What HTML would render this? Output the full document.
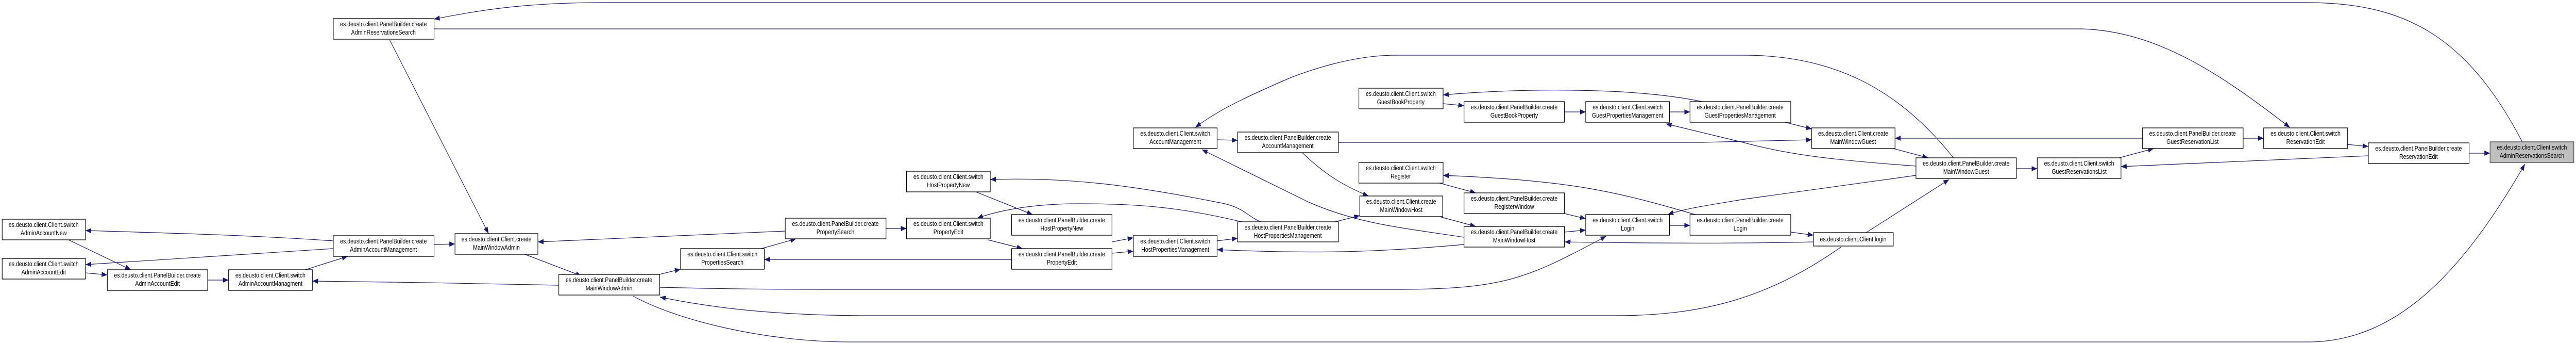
<!DOCTYPE html>
<html><head><meta charset="utf-8"><style>
html,body{margin:0;padding:0;background:#fff;width:100%;height:100%;overflow:hidden}
svg{display:block;width:100vw;height:100vh}
text{font-family:"Liberation Sans",Arial,sans-serif;font-size:12.5px;fill:#000;text-anchor:middle}
.b{fill:#fff;stroke:#000;stroke-width:1.3}
.g{fill:#bfbfbf;stroke:#404040;stroke-width:1.3}
.e{fill:none;stroke:#191970;stroke-width:1.2;marker-end:url(#a)}
</style></head><body>
<svg viewBox="0 0 5905 665" preserveAspectRatio="none" xmlns="http://www.w3.org/2000/svg" overflow="hidden">
<defs><marker id="a" markerUnits="userSpaceOnUse" markerWidth="14" markerHeight="10" refX="13" refY="5" orient="auto"><path d="M0,0 L13,5 L0,10 z" fill="#191970"/></marker></defs>

<path class="e" d="M764,467 C600,457 400,452 196,447"/>
<path class="e" d="M764,482 C600,492 400,503 196,513"/>
<path class="e" d="M157,465 L300,523"/>
<path class="e" d="M196,529 L246,533"/>
<path class="e" d="M476,543 L524,543"/>
<path class="e" d="M700,523 L797,497"/>
<path class="e" d="M1281,553 C1100,549 900,547 716,545"/>
<path class="e" d="M893,77 L1120,453"/>
<path class="e" d="M995,474 L1043,473"/>
<path class="e" d="M1203,493 L1333,535"/>
<path class="e" d="M1800,448 L1233,469"/>
<path class="e" d="M1497,535 L1560,522"/>
<path class="e" d="M1745,482 L1825,463"/>
<path class="e" d="M2319,503 L1752,503"/>
<path class="e" d="M1512,557 C1700,561 1800,561 2000,561 L3200,561 C3450,561 3500,540 3682,458"/>
<path class="e" d="M4220,479 C4050,580 3900,612 3700,612 L2000,612 C1800,612 1650,600 1513,576"/>
<path class="e" d="M1451,574 C1550,620 1750,663 1950,663 L5290,663 C5500,663 5650,520 5788,318"/>
<path class="e" d="M5783,277 C5650,60 5500,5 5285,5 L1383,5 C1200,5 1100,20 995,37"/>
<path class="e" d="M995,56 L4771,56 C4950,60 5100,150 5249,247"/>
<path class="e" d="M4478,306 C4350,170 4200,107 3996,107 L3200,107 C3100,107 3000,137 2960,150 C2850,190 2790,215 2740,247"/>
<path class="e" d="M2790,271 L2837,272"/>
<path class="e" d="M2985,296 C3040,340 3080,360 3137,380"/>
<path class="e" d="M3068,276 L3900,276 L4153,271"/>
<path class="e" d="M3356,460 C3200,440 3112,433 3000,392 L2755,290"/>
<path class="e" d="M3356,474 C3150,490 3000,492 2790,484"/>
<path class="e" d="M2790,467 L2837,462"/>
<path class="e" d="M3056,431 L3117,418"/>
<path class="e" d="M2890,430 C2860,420 2850,400 2790,392 C2600,360 2450,343 2270,348"/>
<path class="e" d="M2851,431 C2700,400 2600,395 2472,395 C2380,395 2300,405 2240,423"/>
<path class="e" d="M2237,372 L2367,416"/>
<path class="e" d="M2265,465 L2344,482"/>
<path class="e" d="M2549,469 L2598,461"/>
<path class="e" d="M2549,491 L2598,487"/>
<path class="e" d="M2031,443 L2078,443"/>
<path class="e" d="M3902,197 C3750,170 3500,170 3308,184"/>
<path class="e" d="M3308,201 L3356,205"/>
<path class="e" d="M3586,217 L3635,217"/>
<path class="e" d="M3827,217 L3874,217"/>
<path class="e" d="M4392,322 C4200,310 4100,300 4000,277 L3819,240"/>
<path class="e" d="M4092,237 L4153,250"/>
<path class="e" d="M4340,288 L4420,306"/>
<path class="e" d="M4622,327 L4670,327"/>
<path class="e" d="M4858,306 L4937,288"/>
<path class="e" d="M4911,268 L4344,268"/>
<path class="e" d="M5429,302 C5200,310 5000,318 4862,323"/>
<path class="e" d="M5142,268 L5189,268"/>
<path class="e" d="M5381,280 L5429,284"/>
<path class="e" d="M5660,297 L5708,297"/>
<path class="e" d="M4392,340 L4000,386 C3900,400 3860,405 3823,416"/>
<path class="e" d="M3886,416 C3700,370 3600,350 3308,340"/>
<path class="e" d="M3300,355 L3383,374"/>
<path class="e" d="M3300,420 L3383,439"/>
<path class="e" d="M3586,414 L3635,424"/>
<path class="e" d="M3586,450 L3635,446"/>
<path class="e" d="M3827,437 L3874,437"/>
<path class="e" d="M4157,469 C4000,472 3800,472 3587,469"/>
<path class="e" d="M4105,450 L4157,456"/>
<path class="e" d="M4274,453 L4468,348"/>

<g>
<rect class="b" x="764" y="36" width="231" height="40"/><text x="879" y="51">es.deusto.client.PanelBuilder.create</text><text x="879" y="67">AdminReservationsSearch</text>
<rect class="b" x="5" y="425" width="191" height="40"/><text x="100" y="440">es.deusto.client.Client.switch</text><text x="100" y="456">AdminAccountNew</text>
<rect class="b" x="5" y="501" width="191" height="40"/><text x="100" y="516">es.deusto.client.Client.switch</text><text x="100" y="532">AdminAccountEdit</text>
<rect class="b" x="246" y="523" width="230" height="40"/><text x="361" y="538">es.deusto.client.PanelBuilder.create</text><text x="361" y="554">AdminAccountEdit</text>
<rect class="b" x="524" y="523" width="192" height="40"/><text x="620" y="538">es.deusto.client.Client.switch</text><text x="620" y="554">AdminAccountManagment</text>
<rect class="b" x="764" y="457" width="231" height="40"/><text x="879" y="472">es.deusto.client.PanelBuilder.create</text><text x="879" y="488">AdminAccountManagement</text>
<rect class="b" x="1043" y="453" width="190" height="40"/><text x="1138" y="468">es.deusto.client.Client.create</text><text x="1138" y="484">MainWindowAdmin</text>
<rect class="b" x="1281" y="532" width="231" height="40"/><text x="1396" y="547">es.deusto.client.PanelBuilder.create</text><text x="1396" y="563">MainWindowAdmin</text>
<rect class="b" x="1560" y="482" width="192" height="40"/><text x="1656" y="497">es.deusto.client.Client.switch</text><text x="1656" y="513">PropertiesSearch</text>
<rect class="b" x="1800" y="423" width="231" height="40"/><text x="1915" y="438">es.deusto.client.PanelBuilder.create</text><text x="1915" y="454">PropertySearch</text>
<rect class="b" x="2598" y="248" width="192" height="40"/><text x="2694" y="263">es.deusto.client.Client.switch</text><text x="2694" y="279">AccountManagement</text>
<rect class="b" x="2837" y="256" width="231" height="40"/><text x="2952" y="271">es.deusto.client.PanelBuilder.create</text><text x="2952" y="287">AccountManagement</text>
<rect class="b" x="2078" y="332" width="192" height="40"/><text x="2174" y="347">es.deusto.client.Client.switch</text><text x="2174" y="363">HostPropertyNew</text>
<rect class="b" x="2078" y="423" width="192" height="40"/><text x="2174" y="438">es.deusto.client.Client.switch</text><text x="2174" y="454">PropertyEdit</text>
<rect class="b" x="2319" y="416" width="230" height="40"/><text x="2434" y="431">es.deusto.client.PanelBuilder.create</text><text x="2434" y="447">HostPropertyNew</text>
<rect class="b" x="2319" y="482" width="230" height="40"/><text x="2434" y="497">es.deusto.client.PanelBuilder.create</text><text x="2434" y="513">PropertyEdit</text>
<rect class="b" x="2598" y="457" width="192" height="40"/><text x="2694" y="472">es.deusto.client.Client.switch</text><text x="2694" y="488">HostPropertiesManagement</text>
<rect class="b" x="2837" y="430" width="231" height="39"/><text x="2952" y="445">es.deusto.client.PanelBuilder.create</text><text x="2952" y="461">HostPropertiesManagement</text>
<rect class="b" x="3115" y="171" width="193" height="40"/><text x="3211" y="186">es.deusto.client.Client.switch</text><text x="3211" y="202">GuestBookProperty</text>
<rect class="b" x="3356" y="197" width="230" height="40"/><text x="3471" y="212">es.deusto.client.PanelBuilder.create</text><text x="3471" y="228">GuestBookProperty</text>
<rect class="b" x="3635" y="197" width="192" height="40"/><text x="3731" y="212">es.deusto.client.Client.switch</text><text x="3731" y="228">GuestPropertiesManagement</text>
<rect class="b" x="3874" y="197" width="231" height="40"/><text x="3989" y="212">es.deusto.client.PanelBuilder.create</text><text x="3989" y="228">GuestPropertiesManagement</text>
<rect class="b" x="3115" y="315" width="193" height="40"/><text x="3211" y="330">es.deusto.client.Client.switch</text><text x="3211" y="346">Register</text>
<rect class="b" x="3117" y="380" width="190" height="40"/><text x="3212" y="395">es.deusto.client.Client.create</text><text x="3212" y="411">MainWindowHost</text>
<rect class="b" x="3356" y="374" width="230" height="40"/><text x="3471" y="389">es.deusto.client.PanelBuilder.create</text><text x="3471" y="405">RegisterWindow</text>
<rect class="b" x="3356" y="439" width="230" height="40"/><text x="3471" y="454">es.deusto.client.PanelBuilder.create</text><text x="3471" y="470">MainWindowHost</text>
<rect class="b" x="3635" y="416" width="192" height="40"/><text x="3731" y="431">es.deusto.client.Client.switch</text><text x="3731" y="447">Login</text>
<rect class="b" x="3874" y="416" width="231" height="40"/><text x="3989" y="431">es.deusto.client.PanelBuilder.create</text><text x="3989" y="447">Login</text>
<rect class="b" x="4153" y="248" width="191" height="40"/><text x="4248" y="263">es.deusto.client.Client.create</text><text x="4248" y="279">MainWindowGuest</text>
<rect class="b" x="4392" y="306" width="230" height="40"/><text x="4507" y="321">es.deusto.client.PanelBuilder.create</text><text x="4507" y="337">MainWindowGuest</text>
<rect class="b" x="4670" y="306" width="192" height="40"/><text x="4766" y="321">es.deusto.client.Client.switch</text><text x="4766" y="337">GuestReservationsList</text>
<rect class="b" x="4911" y="248" width="231" height="40"/><text x="5026" y="263">es.deusto.client.PanelBuilder.create</text><text x="5026" y="279">GuestReservationList</text>
<rect class="b" x="4157" y="451" width="183" height="26"/><text x="4248" y="468">es.deusto.client.Client.login</text>
<rect class="b" x="5189" y="248" width="192" height="40"/><text x="5285" y="263">es.deusto.client.Client.switch</text><text x="5285" y="279">ReservationEdit</text>
<rect class="b" x="5429" y="277" width="231" height="40"/><text x="5544" y="292">es.deusto.client.PanelBuilder.create</text><text x="5544" y="308">ReservationEdit</text>
<rect class="g" x="5708" y="275" width="192" height="40"/><text x="5804" y="290">es.deusto.client.Client.switch</text><text x="5804" y="306">AdminReservationsSearch</text>
</g>
</svg>
</body></html>
